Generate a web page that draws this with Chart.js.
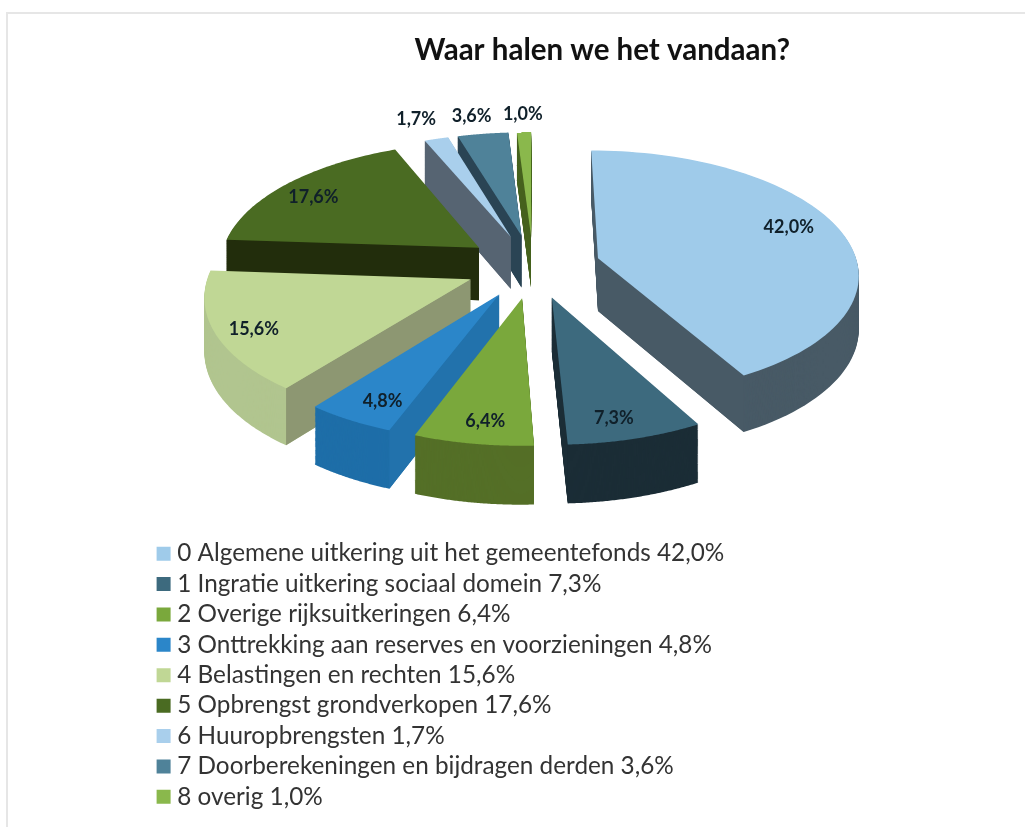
<!DOCTYPE html>
<html lang="nl">
<head>
<meta charset="utf-8">
<title>Waar halen we het vandaan?</title>
<script src="https://cdn.jsdelivr.net/npm/chart.js"></script>
<style>
    html, body { margin: 0; background: #fff; overflow: hidden; }
    #frame { position: absolute; left: 6px; top: 12px; right: 0; bottom: 0; border-left: 2px solid #e6e6e6; border-top: 2px solid #e6e6e6; }
    #grafico { position: absolute; left: 0; top: 0; filter: blur(0.5px); }
</style>
</head>
<body>
<div id="frame"></div>
<canvas id="grafico" width="1025" height="827"></canvas>
<script>
const titulo = "Waar halen we het vandaan?"
const categorias = [
    "Algemene uitkering uit het gemeentefonds",
    "Ingratie uitkering sociaal domein",
    "Overige rijksuitkeringen",
    "Onttrekking aan reserves en voorzieningen",
    "Belastingen en rechten",
    "Opbrengst grondverkopen",
    "Huuropbrengsten",
    "Doorberekeningen en bijdragen derden",
    "overig"
]
const valores = [42.0, 7.3, 6.4, 4.8, 15.6, 17.6, 1.7, 3.6, 1.0]

const coresTopo = ["#9fcbea", "#3d6a7e", "#7aa83c", "#2b86c9", "#c0d795", "#4a6b22", "#a9cfec", "#4f8299", "#8ab84c"]
const coresLado = ["#485a66", "#1b2d36", "#546f27", "#1e6ea8", "#b1c58f", "#232f0e", "#566472", "#2a4454", "#45611d"]
const coresCorte = ["#485a66", "#1b2d36", "#4a6820", "#2272ac", "#8d9772", "#222d0c", "#566472", "#2a4454", "#45611d"]

// ordem de pintura, de tras para a frente
const ordem = [8, 7, 6, 5, 0, 4, 3, 2, 1]
const raioLabel = [0.816, 0.86, 0.86, 0.845, 0.865, 0.83, 1.24, 1.2, 1.2]
const desvioLabel = [-0.085, 0.037, -0.018, -0.035, -0.04, -0.04, -0.017, -0.017, 0]

const centroX = 533
const centroY = 266
const raio = 260
const achatado = 122
const perspectiva = 0.117
const explosao = 0.26
const altura = 53
const perspectivaAltura = 0.08
const camadas = 60
const passosArco = 40

const formatar = v => v.toFixed(1).replace('.', ',') + '%'

// x e y em raios da pizza; o terceiro valor escala a altura naquele ponto
function projetar(x, y) {
    const w = 1 - perspectiva * y
    return [centroX + x * raio / w, centroY + y * achatado / w, altura / (1 - perspectivaAltura * y)]
}

// o arco desenha num ctx falso que guarda os pontos em vez de pintar
function contornoDoArco(arc) {
    const pontos = []
    let fimDoArco = 0
    const falso = {
        save() {}, restore() {}, translate() {}, beginPath() {}, closePath() {},
        fill() {}, stroke() {}, clip() {}, setLineDash() {},
        moveTo(x, y) { pontos.push([x, y]) },
        lineTo(x, y) { pontos.push([x, y]) },
        arc(x, y, r, ini, fim) {
            if (r <= 0) return
            for (let i = 0; i <= passosArco; i++) {
                const a = ini + (fim - ini) * i / passosArco
                pontos.push([x + r * Math.cos(a), y + r * Math.sin(a)])
            }
            fimDoArco = pontos.length - 1
        }
    }
    arc.draw(falso)
    const meio = (arc.startAngle + arc.endAngle) / 2
    const ex = Math.cos(meio) * explosao
    const ey = Math.sin(meio) * explosao
    const borda = pontos.map(p => projetar((p[0] - arc.x) / arc.outerRadius + ex, (p[1] - arc.y) / arc.outerRadius + ey))
    return {
        ex, ey, meio, borda,
        inicio: borda[0],
        fim: borda[fimDoArco],
        apice: projetar(ex, ey),
        interior: projetar(Math.cos(meio) * 0.5 + ex, Math.sin(meio) * 0.5 + ey)
    }
}

function poligono(ctx, pontos, t, cor) {
    ctx.fillStyle = cor
    ctx.beginPath()
    pontos.forEach((p, i) => i ? ctx.lineTo(p[0], p[1] + p[2] * t) : ctx.moveTo(p[0], p[1] + p[2] * t))
    ctx.closePath()
    ctx.fill()
}

function pintarCorte(ctx, fatia, ponta, cor) {
    const [ax, ay, ah] = fatia.apice
    const ux = ponta[0] - ax
    const uy = ponta[1] - ay
    const lado = ux * (fatia.interior[1] - ay) - uy * (fatia.interior[0] - ax)
    // so a face virada para baixo aparece
    if (lado * ux > 0) return
    poligono(ctx, [[ax, ay, 0], [ponta[0], ponta[1], 0], [ponta[0], ponta[1] + ponta[2], 0], [ax, ay + ah, 0]], 0, cor)
}

const pizza3d = {
    id: 'pizza3d',
    beforeDatasetDraw() {
        return false
    },
    afterDatasetsDraw(chart) {
        const ctx = chart.ctx
        const arcos = chart.getDatasetMeta(0).data
        ctx.save()
        ordem.forEach(i => {
            const fatia = contornoDoArco(arcos[i])
            for (let c = camadas; c > 0; c--) poligono(ctx, fatia.borda, c / camadas, coresLado[i])
            pintarCorte(ctx, fatia, fatia.inicio, coresCorte[i])
            pintarCorte(ctx, fatia, fatia.fim, coresCorte[i])
            poligono(ctx, fatia.borda, 0, coresTopo[i])
        })
        ctx.font = "bold 18px Lato"
        ctx.fillStyle = "#10202a"
        ctx.textAlign = "center"
        ctx.textBaseline = "middle"
        arcos.forEach((arc, i) => {
            const fatia = contornoDoArco(arc)
            const a = fatia.meio + desvioLabel[i]
            const p = projetar(Math.cos(a) * raioLabel[i] + fatia.ex, Math.sin(a) * raioLabel[i] + fatia.ey)
            ctx.fillText(formatar(valores[i]), p[0], p[1])
        })
        ctx.restore()
    }
}

new Chart(document.getElementById("grafico"), {
    type: "pie",
    data: {
        labels: categorias.map((c, i) => `${i} ${c} ${formatar(valores[i])}`),
        datasets: [{
            data: valores,
            backgroundColor: coresTopo,
            borderWidth: 0
        }]
    },
    plugins: [pizza3d],
    options: {
        responsive: false,
        animation: false,
        radius: raio,
        layout: { padding: { left: 156, right: 235, top: 0, bottom: 8 } },
        plugins: {
            tooltip: { enabled: false },
            title: {
                display: true,
                text: titulo,
                align: "end",
                fullSize: false,
                color: "#111",
                font: { family: "Lato", size: 29.5, weight: "bold" },
                padding: { top: 33, bottom: 10 }
            },
            legend: {
                position: "bottom",
                align: "start",
                fullSize: false,
                labels: {
                    color: "#333",
                    font: { family: "Lato", size: 24.3 },
                    usePointStyle: true,
                    pointStyle: "rect",
                    boxWidth: 3,
                    boxHeight: 14,
                    padding: 6.1
                }
            }
        }
    }
})
</script>
</body>
</html>
